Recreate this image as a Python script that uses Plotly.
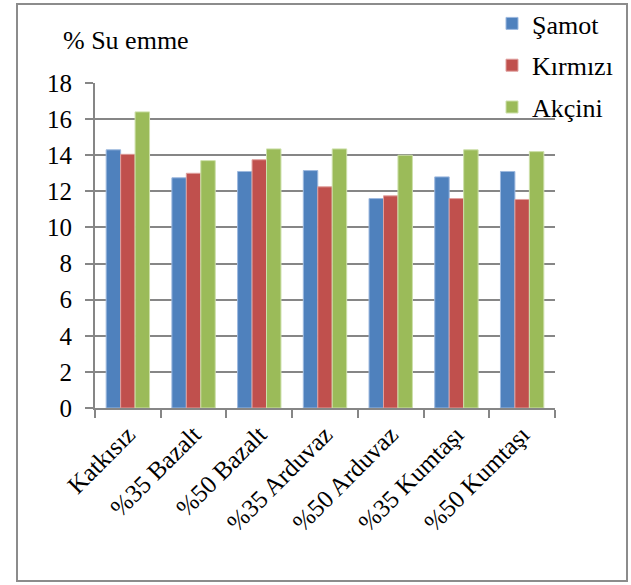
import plotly.graph_objects as go

categories = ["Katkısız", "%35 Bazalt", "%50 Bazalt", "%35 Arduvaz",
              "%50 Arduvaz", "%35 Kumtaşı", "%50 Kumtaşı"]
samot = [14.3, 12.75, 13.1, 13.15, 11.6, 12.8, 13.1]
kirmizi = [14.05, 13.0, 13.75, 12.25, 11.75, 11.6, 11.55]
akcini = [16.4, 13.7, 14.35, 14.35, 14.0, 14.3, 14.2]

series = [("Şamot", samot, "#4F81BD", "#9DB9DF"),
          ("Kırmızı", kirmizi, "#C0504D", "#E0A09E"),
          ("Akçini", akcini, "#9BBB59", "#CDE0AA")]

FONT = '"Liberation Serif", "Times New Roman", Times, serif'
W, H = 631, 585
L, R, T, B = 95, 76, 83, 177
pw, ph = W - L - R, H - T - B

def px_x(x):
    return (x - L) / pw

def px_y(y):
    return (H - B - y) / ph

fig = go.Figure()
for name, vals, col, edge in series:
    fig.add_trace(go.Bar(
        x=categories, y=vals, name=name, legendgroup=name,
        marker=dict(color=col, line=dict(color=edge, width=1)),
    ))

fig.update_layout(
    width=W, height=H,
    margin=dict(l=L, r=R, t=T, b=B, autoexpand=False),
    paper_bgcolor="white", plot_bgcolor="white",
    barmode="group", bargap=0.34, bargroupgap=0,
    font=dict(family=FONT, size=25, color="black"),
    showlegend=True,
    legend=dict(x=px_x(492), y=px_y(0), xanchor="left", yanchor="top",
                font=dict(family=FONT, size=26, color="black"),
                bgcolor="rgba(0,0,0,0)",
                itemwidth=30, tracegroupgap=5),
    xaxis=dict(showline=True, linecolor="#868686", linewidth=2,
               ticks="outside", ticklen=8, tickcolor="#868686", tickwidth=2,
               tickson="boundaries", tickangle=-45, showgrid=False,
               tickfont=dict(family=FONT, size=25, color="black")),
    yaxis=dict(range=[0, 18], dtick=2, showline=True, linecolor="#868686",
               linewidth=2, ticks="outside", ticklen=8, tickcolor="#868686",
               tickwidth=2, showgrid=True, gridcolor="#868686", gridwidth=2,
               zeroline=False, tickfont=dict(family=FONT, size=25, color="black"),
               ticklabelstandoff=8),
    annotations=[dict(text="% Su emme", xref="paper", yref="paper",
                      x=px_x(61), y=px_y(41), xanchor="left", yanchor="middle",
                      showarrow=False,
                      font=dict(family=FONT, size=26, color="black"))],
    shapes=[dict(type="rect", xref="paper", yref="paper",
                 x0=px_x(17), x1=px_x(627), y0=px_y(581), y1=px_y(4),
                 line=dict(color="#8C8C8C", width=2), fillcolor="rgba(0,0,0,0)",
                 layer="below")],
)

fig.write_html("out.html", config={"displayModeBar": False},
               post_script="document.body.style.margin='0';document.body.style.overflow='hidden';")
